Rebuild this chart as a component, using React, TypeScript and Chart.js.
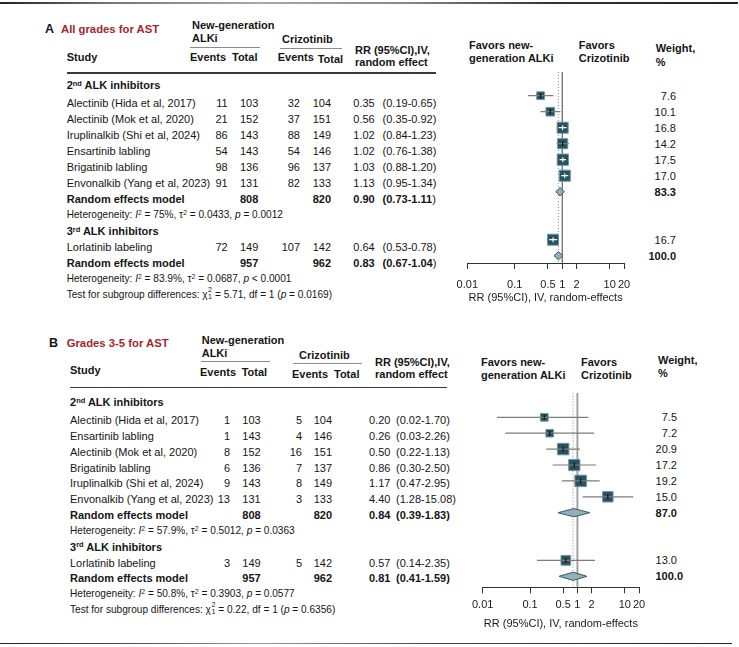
import React, { useEffect, useRef } from "react";
import { Chart, registerables } from "chart.js";

Chart.register(...registerables);

const FONT = "'Liberation Sans', Arial, Helvetica, sans-serif";

// ---------- shared axis ----------
const tickValues = [0.01, 0.1, 0.5, 1, 2, 10, 20];
const tickLabels = ["0.01", "0.1", "0.5", "1", "2", "10", "20"];
const axisTitle = "RR (95%CI), IV, random-effects";

// ---------- Panel A: All grades for AST ----------
const titleA = "All grades for AST";
const studiesA = [
  "Alectinib (Hida et al, 2017)",
  "Alectinib (Mok et al, 2020)",
  "Iruplinalkib (Shi et al, 2024)",
  "Ensartinib labling",
  "Brigatinib labling",
  "Envonalkib (Yang et al, 2023)",
];
const eventsNewA = [11, 21, 86, 54, 98, 91];
const totalNewA = [103, 152, 143, 143, 136, 131];
const eventsCrizA = [32, 37, 88, 54, 96, 82];
const totalCrizA = [104, 151, 149, 146, 137, 133];
const rrA = [0.35, 0.56, 1.02, 1.02, 1.03, 1.13];
const lowerA = [0.19, 0.35, 0.84, 0.76, 0.88, 0.95];
const upperA = [0.65, 0.92, 1.23, 1.38, 1.2, 1.34];
const weightA = [7.6, 10.1, 16.8, 14.2, 17.5, 17.0];
const subgroupA = { totalNew: 808, totalCriz: 820, rr: 0.9, lower: 0.73, upper: 1.11, weight: 83.3 };
const subgroupHetA = { i2: "75%", tau2: "0.0433", p: "= 0.0012" };
const thirdA = { study: "Lorlatinib labeling", eventsNew: 72, totalNew: 149, eventsCriz: 107, totalCriz: 142, rr: 0.64, lower: 0.53, upper: 0.78, weight: 16.7 };
const overallA = { totalNew: 957, totalCriz: 962, rr: 0.83, lower: 0.67, upper: 1.04, weight: 100.0 };
const overallHetA = { i2: "83.9%", tau2: "0.0687", p: "< 0.0001" };
const subgroupTestA = { chi2: "5.71", df: "1", p: "0.0169" };

// ---------- Panel B: Grades 3-5 for AST ----------
const titleB = "Grades 3-5 for AST";
const studiesB = [
  "Alectinib (Hida et al, 2017)",
  "Ensartinib labling",
  "Alectinib (Mok et al, 2020)",
  "Brigatinib labling",
  "Iruplinalkib (Shi et al, 2024)",
  "Envonalkib (Yang et al, 2023)",
];
const eventsNewB = [1, 1, 8, 6, 9, 13];
const totalNewB = [103, 143, 152, 136, 143, 131];
const eventsCrizB = [5, 4, 16, 7, 8, 3];
const totalCrizB = [104, 146, 151, 137, 149, 133];
const rrB = [0.2, 0.26, 0.5, 0.86, 1.17, 4.4];
const lowerB = [0.02, 0.03, 0.22, 0.3, 0.47, 1.28];
const upperB = [1.7, 2.26, 1.13, 2.5, 2.95, 15.08];
const weightB = [7.5, 7.2, 20.9, 17.2, 19.2, 15.0];
const subgroupB = { totalNew: 808, totalCriz: 820, rr: 0.84, lower: 0.39, upper: 1.83, weight: 87.0 };
const subgroupHetB = { i2: "57.9%", tau2: "0.5012", p: "= 0.0363" };
const thirdB = { study: "Lorlatinib labeling", eventsNew: 3, totalNew: 149, eventsCriz: 5, totalCriz: 142, rr: 0.57, lower: 0.14, upper: 2.35, weight: 13.0 };
const overallB = { totalNew: 957, totalCriz: 962, rr: 0.81, lower: 0.41, upper: 1.59, weight: 100.0 };
const overallHetB = { i2: "50.8%", tau2: "0.3903", p: "= 0.0577" };
const subgroupTestB = { chi2: "0.22", df: "1", p: "0.6356" };

const panelA = {
  letter: "A", title: titleA, studies: studiesA, eventsNew: eventsNewA, totalNew: totalNewA,
  eventsCriz: eventsCrizA, totalCriz: totalCrizA, rr: rrA, lower: lowerA, upper: upperA, weight: weightA,
  sub: subgroupA, subHet: subgroupHetA, third: thirdA, overall: overallA, overallHet: overallHetA, test: subgroupTestA,
};
const panelB = {
  letter: "B", title: titleB, studies: studiesB, eventsNew: eventsNewB, totalNew: totalNewB,
  eventsCriz: eventsCrizB, totalCriz: totalCrizB, rr: rrB, lower: lowerB, upper: upperB, weight: weightB,
  sub: subgroupB, subHet: subgroupHetB, third: thirdB, overall: overallB, overallHet: overallHetB, test: subgroupTestB,
};

// ---------- layouts ----------
const layoutA = {
  letterX: 45, headY: 29, titleX: 61,
  ngX: 192, ngY1: 25, ngY2: 38, ngLine: [190, 260, 47],
  czX: 282, czY: 39, czLine: [280, 342, 48],
  studyHdrY: 57, evHdrX: 190, totHdrX: 232, evHdrY: 57, czEvHdrX: 277.7, czTotHdrX: 317.7, czEvHdrY: 57, czTotHdrY: 58.7,
  rrHdrX: 355, rrHdrY1: 50, rrHdrY2: 62, hdrLine: [66.7, 436, 73],
  studyX: 66.7, evR: 227.7, totR: 258.3, czEvR: 300, czTotR: 331, rrX: 353.3, ciX: 382.6, ciCloseNormal: true,
  headingY: 85, rowBase: 87, rowStep: 16,
  fav1X: 469, fav2X: 578.7, favY1: 45, favY2: 58, wHdrX: 655.7, wHdrY1: 48, wHdrY2: 62, wR: 676, wR2: 676,
  fBase: 79.7, fStep: 16,
  cx: 440, cy: 60, cw: 299, ch: 254, padL: 27.3, padR: 115, padT: 12, axisPx: 263, topPx: 72,
  titleOffset: 35, tickPad: 9,
  nullColor: "#505050", nullWidth: 1.1,
};
const layoutB = {
  letterX: 49, headY: 343, titleX: 66.7,
  ngX: 201.7, ngY1: 340, ngY2: 353, ngLine: [201, 270, 361.7],
  czX: 299, czY: 355, czLine: [293, 362, 363.3],
  studyHdrY: 370, evHdrX: 200, totHdrX: 241.7, evHdrY: 371.7, czEvHdrX: 292, czTotHdrX: 334, czEvHdrY: 374, czTotHdrY: 374,
  rrHdrX: 375, rrHdrY1: 361.7, rrHdrY2: 374.3, hdrLine: [70, 447.3, 387.3],
  studyX: 70, evR: 230, totR: 260.7, czEvR: 302, czTotR: 332, rrX: 369, ciX: 396, ciCloseNormal: false,
  headingY: 402, rowBase: 404.2, rowStep: 15.83,
  fav1X: 481, fav2X: 581, favY1: 361.7, favY2: 375, wHdrX: 658, wHdrY1: 360, wHdrY2: 373, wR: 677, wR2: 683,
  fBase: 401.4, fStep: 15.9,
  cx: 440, cy: 380, cw: 299, ch: 262, padL: 42.7, padR: 100, padT: 12.7, axisPx: 587.3, topPx: 392.7,
  titleOffset: 36.7, tickPad: 5,
  nullColor: "#9a9a9a", nullWidth: 1.8,
};

// ---------- text helpers ----------
type TP = {
  x: number; y: number; children: React.ReactNode; bold?: boolean; size?: number;
  align?: "left" | "right" | "center"; color?: string;
};
function T({ x, y, children, bold, size = 11, align = "left", color = "#151515" }: TP) {
  const h = 14;
  const style: React.CSSProperties = {
    position: "absolute", top: y - h / 2, height: h, lineHeight: h + "px", fontSize: size,
    fontWeight: bold ? 700 : 400, color, whiteSpace: "nowrap", fontFamily: FONT,
  };
  if (align === "right") style.right = 739 - x;
  else if (align === "center") { style.left = x; style.transform = "translateX(-50%)"; }
  else style.left = x;
  return <div style={style}>{children}</div>;
}
const Sup = ({ c }: { c: string }) => (
  <span style={{ fontSize: "0.68em", position: "relative", top: "-0.45em" }}>{c}</span>
);
function HLine({ x1, x2, y, color, w }: { x1: number; x2: number; y: number; color: string; w: number }) {
  return <div style={{ position: "absolute", left: x1, top: y - w / 2, width: x2 - x1, height: w, background: color }} />;
}

function Het({ h }: { h: { i2: string; tau2: string; p: string } }) {
  return (
    <>
      Heterogeneity: <i>I</i><Sup c="2" /> = {h.i2}, τ<Sup c="2" /> = {h.tau2}, <i>p</i> {h.p}
    </>
  );
}
function TestLine({ t }: { t: { chi2: string; df: string; p: string } }) {
  return (
    <>
      Test for subgroup differences: χ
      <span style={{ position: "relative", display: "inline-block", width: "0.45em", height: 10 }}>
        <span style={{ position: "absolute", left: 0.5, top: -2, fontSize: 7.2, lineHeight: "8px" }}>2</span>
        <span style={{ position: "absolute", left: 0.5, top: 5, fontSize: 7.2, lineHeight: "8px" }}>1</span>
      </span>
      {" "}= {t.chi2}, df = {t.df} (<i>p</i> = {t.p})
    </>
  );
}

const fmt2 = (v: number) => v.toFixed(2);
const ci = (lo: number, hi: number) => `(${fmt2(lo)}-${fmt2(hi)}`;

function PanelText({ d, L }: { d: typeof panelA; L: typeof layoutA }) {
  const rowY = (i: number) => L.rowBase + L.rowStep * i;
  const fY = (i: number) => L.fBase + L.fStep * i;
  const els: React.ReactNode[] = [];
  let k = 0;
  const add = (p: TP) => els.push(<T key={k++} {...p} />);
  // headers
  add({ x: L.letterX, y: L.headY, children: d.letter, bold: true, size: 12.5 });
  add({ x: L.titleX, y: L.headY, children: d.title, bold: true, size: 11.3, color: "#a3272b" });
  add({ x: L.ngX, y: L.ngY1, children: "New-generation", bold: true });
  add({ x: L.ngX, y: L.ngY2, children: "ALKi", bold: true });
  add({ x: L.czX, y: L.czY, children: "Crizotinib", bold: true });
  add({ x: L.studyX, y: L.studyHdrY, children: "Study", bold: true });
  add({ x: L.evHdrX, y: L.evHdrY, children: "Events", bold: true });
  add({ x: L.totHdrX, y: L.evHdrY, children: "Total", bold: true });
  add({ x: L.czEvHdrX, y: L.czEvHdrY, children: "Events", bold: true });
  add({ x: L.czTotHdrX, y: L.czTotHdrY, children: "Total", bold: true });
  add({ x: L.rrHdrX, y: L.rrHdrY1, children: "RR (95%CI),IV,", bold: true });
  add({ x: L.rrHdrX, y: L.rrHdrY2, children: "random effect", bold: true });
  add({ x: L.fav1X, y: L.favY1, children: "Favors new-", bold: true });
  add({ x: L.fav1X, y: L.favY2, children: "generation ALKi", bold: true });
  add({ x: L.fav2X, y: L.favY1, children: "Favors", bold: true });
  add({ x: L.fav2X, y: L.favY2, children: "Crizotinib", bold: true });
  add({ x: L.wHdrX, y: L.wHdrY1, children: "Weight,", bold: true });
  add({ x: L.wHdrX, y: L.wHdrY2, children: "%", bold: true });
  // 2nd heading
  add({ x: L.studyX, y: L.headingY, bold: true, children: <>2<Sup c="nd" /> ALK inhibitors</> });
  const studyRow = (i: number, name: string, en: number, tn: number, ec: number, tc: number, rr: number, lo: number, hi: number, w: number, fi: number) => {
    const y = rowY(i);
    add({ x: L.studyX, y, children: name });
    add({ x: L.evR, y, children: String(en), align: "right" });
    add({ x: L.totR, y, children: String(tn), align: "right" });
    add({ x: L.czEvR, y, children: String(ec), align: "right" });
    add({ x: L.czTotR, y, children: String(tc), align: "right" });
    add({ x: L.rrX, y, children: fmt2(rr) });
    add({ x: L.ciX, y, children: ci(lo, hi) + ")" });
    add({ x: L.wR, y: fY(fi), children: w.toFixed(1), align: "right" });
  };
  d.studies.forEach((s, i) =>
    studyRow(i + 1, s, d.eventsNew[i], d.totalNew[i], d.eventsCriz[i], d.totalCriz[i], d.rr[i], d.lower[i], d.upper[i], d.weight[i], i + 1)
  );
  const reRow = (i: number, g: typeof subgroupA, wr: number) => {
    const y = rowY(i);
    add({ x: L.studyX, y, children: "Random effects model", bold: true });
    add({ x: L.totR, y, children: String(g.totalNew), align: "right", bold: true });
    add({ x: L.czTotR, y, children: String(g.totalCriz), align: "right", bold: true });
    add({ x: L.rrX, y, children: fmt2(g.rr), bold: true });
    add({
      x: L.ciX, y, bold: true,
      children: L.ciCloseNormal ? <>{ci(g.lower, g.upper)}<span style={{ fontWeight: 400 }}>)</span></> : ci(g.lower, g.upper) + ")",
    });
    add({ x: wr, y: fY(i), children: g.weight.toFixed(1), align: "right", bold: true });
  };
  reRow(7, d.sub, L.wR);
  add({ x: L.studyX, y: rowY(8), size: 10.1, children: <Het h={d.subHet} /> });
  add({ x: L.studyX, y: rowY(9), bold: true, children: <>3<Sup c="rd" /> ALK inhibitors</> });
  const t = d.third;
  studyRow(10, t.study, t.eventsNew, t.totalNew, t.eventsCriz, t.totalCriz, t.rr, t.lower, t.upper, t.weight, 10);
  reRow(11, d.overall, L.wR2);
  add({ x: L.studyX, y: rowY(12), size: 10.1, children: <Het h={d.overallHet} /> });
  add({ x: L.studyX, y: rowY(13), size: 10.1, children: <TestLine t={d.test} /> });
  return (
    <>
      <HLine x1={L.ngLine[0]} x2={L.ngLine[1]} y={L.ngLine[2]} color="#8c8c8c" w={1} />
      <HLine x1={L.czLine[0]} x2={L.czLine[1]} y={L.czLine[2]} color="#8c8c8c" w={1} />
      <HLine x1={L.hdrLine[0]} x2={L.hdrLine[1]} y={L.hdrLine[2]} color="#3a3a3a" w={1.4} />
      {els}
    </>
  );
}

// ---------- forest chart ----------
function forestDatasets(d: typeof panelA, L: typeof layoutA) {
  const side = (w: number) => Math.min(11.5, 5 + 0.36 * w);
  const studies = d.rr.map((r, i) => ({ rr: r, lo: d.lower[i], hi: d.upper[i], w: d.weight[i], row: i + 1 }));
  studies.push({ rr: d.third.rr, lo: d.third.lower, hi: d.third.upper, w: d.third.weight, row: 10 });
  const diamonds = [
    { rr: d.sub.rr, lo: d.sub.lower, hi: d.sub.upper, row: 7 },
    { rr: d.overall.rr, lo: d.overall.lower, hi: d.overall.upper, row: 11 },
  ];
  const yMin = (L.topPx - L.fBase) / L.fStep;
  const yMax = (L.axisPx - L.fBase) / L.fStep;
  const fits = (chart: any, s: { lo: number; hi: number; w: number }) => {
    const x = chart.scales && chart.scales.x;
    if (!x) return false;
    const px = x.getPixelForValue(s.hi) - x.getPixelForValue(s.lo);
    return px < side(s.w) - 1;
  };
  const h = 0.26;
  const ds: any[] = [];
  ds.push({
    data: [{ x: 1, y: yMin }, { x: 1, y: yMax }], showLine: true, borderColor: L.nullColor,
    borderWidth: L.nullWidth, pointRadius: 0, order: 10,
  });
  ds.push({
    data: [{ x: d.overall.rr, y: yMin }, { x: d.overall.rr, y: yMax }], showLine: true, borderColor: "#8a8a8a",
    borderWidth: 1, borderDash: [1, 2], pointRadius: 0, order: 9,
  });
  diamonds.forEach((dm) =>
    ds.push({
      data: [
        { x: dm.lo, y: dm.row }, { x: dm.rr, y: dm.row - h }, { x: dm.hi, y: dm.row },
        { x: dm.rr, y: dm.row + h }, { x: dm.lo, y: dm.row },
      ],
      showLine: true, fill: "shape", backgroundColor: "#8fb0bc", borderColor: "#3b5762", borderWidth: 1,
      pointRadius: 0, tension: 0, order: 3,
    })
  );
  ds.push({
    data: studies.map((s) => ({ x: s.rr, y: s.row })), pointStyle: "rect",
    pointRadius: studies.map((s) => side(s.w) / Math.SQRT2), pointBackgroundColor: "#26525f",
    pointBorderColor: "#6f97a3", pointBorderWidth: 1, backgroundColor: "#26525f", borderColor: "#6f97a3", order: 6,
  });
  studies.forEach((s) =>
    ds.push({
      data: [{ x: s.lo, y: s.row }, { x: s.hi, y: s.row }], showLine: true,
      borderColor: (c: any) => (fits(c.chart, s) ? "#ffffff" : "#7c7c7c"), borderWidth: 1.2,
      pointRadius: 0, order: 5,
    })
  );
  ds.push({
    data: studies.map((s) => ({ x: s.rr, y: s.row })), pointStyle: "line", pointRotation: 90, pointRadius: 2.5,
    pointBorderColor: (c: any) => (fits(c.chart, studies[c.dataIndex]) ? "#ffffff" : "#111111"),
    pointBorderWidth: 1.1, order: 4,
  });
  return { ds, yMin, yMax };
}

function Forest({ d, L }: { d: typeof panelA; L: typeof layoutA }) {
  const ref = useRef<HTMLCanvasElement>(null);
  useEffect(() => {
    const { ds, yMin, yMax } = forestDatasets(d, L);
    const chartBottom = L.axisPx - L.cy;
    const scaleH = L.titleOffset + 6.6;
    const padB = L.ch - chartBottom - scaleH;
    const chart = new Chart(ref.current as HTMLCanvasElement, {
      type: "scatter",
      data: { datasets: ds },
      options: {
        animation: false,
        responsive: false,
        maintainAspectRatio: false,
        events: [],
        layout: { padding: { left: L.padL, right: L.padR, top: L.padT, bottom: padB } },
        plugins: { legend: { display: false }, tooltip: { enabled: false } },
        scales: {
          x: {
            type: "logarithmic",
            min: 0.01,
            max: 20,
            position: "bottom",
            afterBuildTicks: (s: any) => { s.ticks = tickValues.map((v) => ({ value: v })); },
            afterFit: (s: any) => { s.height = scaleH; },
            ticks: {
              autoSkip: false, maxRotation: 0, minRotation: 0, padding: L.tickPad, color: "#1a1a1a",
              font: { family: FONT, size: 11 },
              callback: (_v: any, i: number) => tickLabels[i],
            },
            grid: { drawOnChartArea: false, drawTicks: true, tickLength: 6, color: "#333333", lineWidth: 1 },
            border: { display: true, color: "#333333", width: 1 },
            title: { display: true, text: axisTitle, color: "#1a1a1a", font: { family: FONT, size: 11 }, padding: 0 },
          },
          y: { type: "linear", display: false, min: yMin, max: yMax, reverse: true },
        },
      } as any,
    });
    return () => chart.destroy();
  }, []);
  return (
    <canvas
      ref={ref}
      width={L.cw}
      height={L.ch}
      style={{ position: "absolute", left: L.cx, top: L.cy, width: L.cw, height: L.ch }}
    />
  );
}

export default function App() {
  return (
    <div style={{ position: "absolute", left: 0, top: 0, width: 739, height: 647, overflow: "hidden", background: "#fff", fontFamily: FONT }}>
      <div style={{ position: "absolute", left: 0, top: 2, width: 738, height: 1.6, background: "linear-gradient(to right, #222 0%, #777 15%, #aaa 35%, #888 55%, #333 75%, #222 100%)" }} />
      <PanelText d={panelA} L={layoutA} />
      <Forest d={panelA} L={layoutA} />
      <PanelText d={panelB} L={layoutB as any} />
      <Forest d={panelB} L={layoutB as any} />
      <div style={{ position: "absolute", left: 0, top: 642.5, width: 732, height: 1.6, background: "linear-gradient(to right, #222 0%, #555 20%, #999 35%, #444 60%, #222 100%)" }} />
    </div>
  );
}
